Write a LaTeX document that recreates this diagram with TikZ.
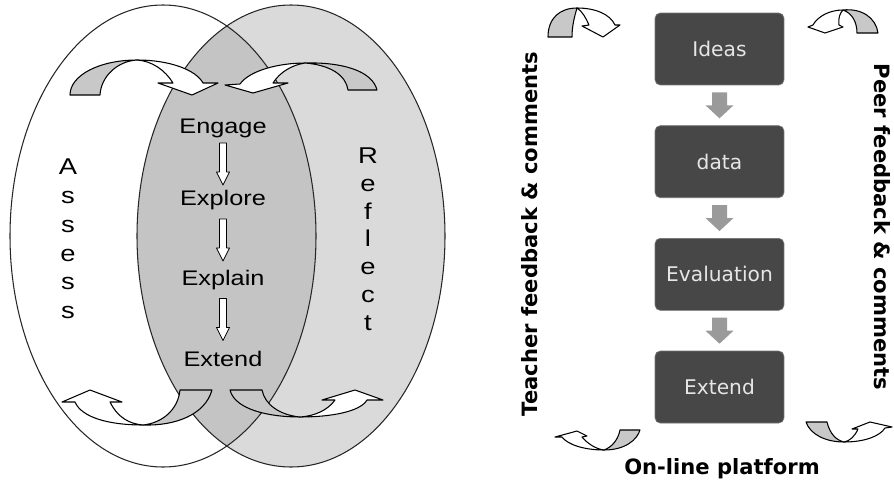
\documentclass[tikz,border=0pt]{standalone}
\usepackage{fontspec}
\setmainfont{Liberation Sans}
\newfontfamily\verd{DejaVu Sans}
\usetikzlibrary{positioning,calc}
\definecolor{reflgrey}{HTML}{DADADA}
\definecolor{lapgrey}{HTML}{C4C4C4}
\definecolor{tailgrey}{HTML}{C8C8C8}
\definecolor{boxgrey}{HTML}{474747}
\definecolor{boxtext}{HTML}{E6E6E6}
\definecolor{arrgrey}{HTML}{9A9A9A}
\tikzset{
	hollowdown/.pic={\filldraw[fill=white, line width=0.5pt] (-3.5,-21) -- (-3.5,8) -- (-6.5,8) -- (0,21) -- (6.5,8) -- (3.5,8) -- (3.5,-21) -- cycle;},
	flowdown/.pic={\fill[arrgrey] (-7.5,-13) -- (-7.5,0) -- (-14,0) -- (0,13) -- (14,0) -- (7.5,0) -- (7.5,-13) -- cycle;}
}

\begin{document}
\begin{tikzpicture}[x=0.02cm, y=-0.02cm, line join=round,
	ring/.style={draw=black!85, line width=0.6pt},
	tailpart/.style={fill=tailgrey, draw=black, line width=0.6pt},
	headpart/.style={fill=white, draw=black, line width=0.6pt},
	word/.style={font=\fontsize{12}{14}\selectfont, xscale=1.2},
	letters/.style={align=center, font=\fontsize{13}{16.4}\selectfont, xscale=1.2},
	stage/.style={rectangle, rounded corners=3pt, fill=boxgrey, draw=black!55, text=boxtext,
		font=\verd\fontsize{11.5}{13}\selectfont, minimum width=2.58cm, minimum height=1.44cm},
	side/.style={font=\verd\bfseries\fontsize{12}{14}\selectfont},
	node distance=0.8cm]
\useasboundingbox (0,0) rectangle (894,484);

% the two ovals
\fill[white] (163,236) ellipse [x radius=153, y radius=231];
\fill[reflgrey] (291,236) ellipse [x radius=154, y radius=231];
\begin{scope}
	\clip (163,236) ellipse [x radius=153, y radius=231];
	\fill[lapgrey] (291,236) ellipse [x radius=154, y radius=231];
\end{scope}
\draw[ring] (163,236) ellipse [x radius=153, y radius=231];
\draw[ring] (291,236) ellipse [x radius=154, y radius=231];

\node[letters] (assess) at (68,239) {A\\s\\s\\e\\s\\s};
\node[letters, font=\fontsize{13}{15.8}\selectfont] (reflect) at (368,239) {R\\e\\f\\l\\e\\c\\t};

\node[word] (engage) at (223,128) {Engage};
\node[word] (explore) at (223,200) {Explore};
\node[word] (explain) at (223,280) {Explain};
\node[word] (extend) at (223,359) {Extend};
\pic at ($(engage)!0.5!(explore)$) {hollowdown};
\pic at ($(explore)!0.5!(explain)$) {hollowdown};
\pic at ($(explain)!0.5!(extend)$) {hollowdown};

% big curved arrows
\filldraw[tailpart] (70,95) .. controls (70,75) and (100,60) .. (137,60) .. controls (118,61) and (101,76) .. (100,95) -- cycle;
\filldraw[headpart] (137,60) .. controls (170,60) and (196,70) .. (203,83) -- (218,83) -- (192,95) -- (158,83) -- (173,83) .. controls (165,70) and (152,61) .. (137,60) -- cycle;
\filldraw[tailpart] (305,63) .. controls (340,62) and (372,70) .. (377,90) -- (348,90) .. controls (346,75) and (330,65) .. (305,63) -- cycle;
\filldraw[headpart] (305,63) .. controls (280,63) and (250,70) .. (240,84) -- (225,85) -- (253,93) -- (288,83) -- (273,83) .. controls (280,72) and (292,65) .. (305,63) -- cycle;
\filldraw[tailpart] (143,425) .. controls (175,426) and (205,415) .. (212,390) -- (180,390) .. controls (178,410) and (162,423) .. (143,425) -- cycle;
\filldraw[headpart] (143,425) .. controls (110,425) and (82,418) .. (75,402) -- (62,402) -- (90,390) -- (122,402) -- (110,402) .. controls (118,418) and (130,424) .. (143,425) -- cycle;
\filldraw[tailpart] (230,390) -- (262,390) .. controls (265,405) and (280,415) .. (300,417) .. controls (270,417) and (235,410) .. (230,390) -- cycle;
\filldraw[headpart] (300,417) .. controls (330,417) and (360,412) .. (367,400) -- (383,400) -- (355,390) -- (322,400) -- (335,400) .. controls (328,410) and (315,416) .. (300,417) -- cycle;

% flow of the platform
\node[stage] (ideas) at (719.5,49) {Ideas};
\node[stage, below=of ideas] (data) {data};
\node[stage, below=of data] (evaluation) {Evaluation};
\node[stage, below=of evaluation] (extendbox) {Extend};
\pic at ($(ideas.south)!0.5!(data.north)$) {flowdown};
\pic at ($(data.south)!0.5!(evaluation.north)$) {flowdown};
\pic at ($(evaluation.south)!0.5!(extendbox.north)$) {flowdown};

\node[side, rotate=90] (teacher) at (530,234) {Teacher feedback \& comments};
\node[side, rotate=-90] (peer) at (882,227) {Peer feedback \& comments};
\node[side] (platform) at (722,469) {On-line platform};

% small curved arrows
\filldraw[tailpart] (548,37) .. controls (548,18) and (560,8) .. (577,8) .. controls (575,15) and (572,25) .. (572,37) -- cycle;
\filldraw[headpart] (577,8) .. controls (595,8) and (610,14) .. (615,25) -- (620,25) -- (603,37) -- (582,26) -- (589,25) .. controls (586,18) and (582,11) .. (577,8) -- cycle;
\filldraw[tailpart] (843,10) .. controls (862,8) and (876,18) .. (878,33) -- (857,33) .. controls (857,22) and (852,13) .. (843,10) -- cycle;
\filldraw[headpart] (843,10) .. controls (830,10) and (818,16) .. (813,25) -- (808,27) -- (825,33) -- (843,27) -- (839,25) .. controls (838,18) and (840,13) .. (843,10) -- cycle;
\filldraw[tailpart] (604,450) .. controls (625,450) and (637,440) .. (640,430) -- (620,430) .. controls (618,440) and (612,447) .. (604,450) -- cycle;
\filldraw[headpart] (604,450) .. controls (585,450) and (568,445) .. (562,437) -- (555,437) -- (577,431) -- (587,436) -- (582,437) .. controls (588,444) and (596,449) .. (604,450) -- cycle;
\filldraw[tailpart] (806,422) -- (827,422) .. controls (830,434) and (836,440) .. (844,442) .. controls (825,442) and (810,434) .. (806,422) -- cycle;
\filldraw[headpart] (844,442) .. controls (865,442) and (880,436) .. (885,428) -- (892,427) -- (870,422) -- (852,429) -- (858,429) .. controls (855,436) and (850,441) .. (844,442) -- cycle;
\end{tikzpicture}
\end{document}
